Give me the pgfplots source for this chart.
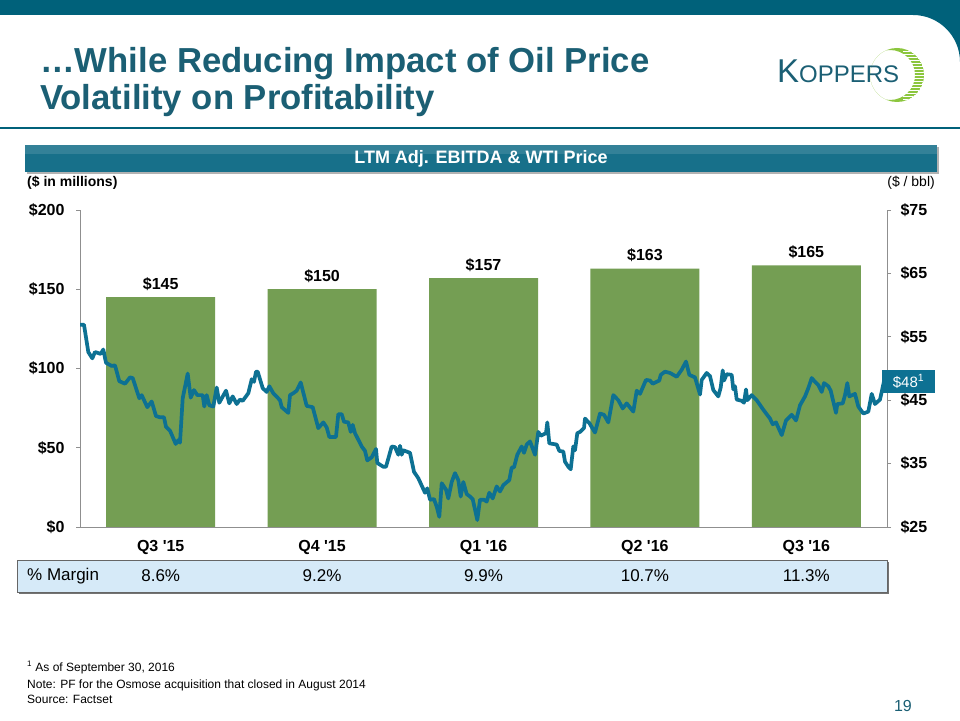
\documentclass[border=0pt]{standalone}
\usepackage{pgfplots}
\pgfplotsset{compat=1.18}
\usepackage{fontspec}
\setmainfont{Liberation Sans}
\usepackage{graphicx}
\definecolor{topteal}{HTML}{00617A}
\definecolor{titleteal}{HTML}{1B5F74}
\definecolor{bannerteal}{HTML}{17708A}
\definecolor{linecol}{HTML}{0D7193}
\definecolor{barcol}{HTML}{749E53}
\definecolor{tableblue}{HTML}{D6EAF8}
\definecolor{axgray}{HTML}{8F8F8F}
\definecolor{logogreen}{HTML}{8CC63E}
\newcommand{\fs}[2]{\fontsize{#1}{#2}\selectfont}

\pgfplotstableread{
x y
80 56.9
84 56.9
88.3 52.6
92.3 51.6
95 52.6
100.7 52.3
103.3 53.0
106 50.9
111.7 50.4
115 50.5
119.3 48.0
125 47.6
130 48.6
132.7 48.5
139.3 45.3
141.7 45.8
147.3 43.9
151.7 44.8
156 42.5
160 42.3
164 42.3
166 40.8
170 40.2
175.7 38.1
178.3 38.7
180 38.3
182.7 45.3
187.7 49.2
190.7 45.4
194 46.6
197.3 45.8
202.7 45.8
204.3 44.0
206.7 45.8
209.3 44.2
213.3 44.0
216.7 47.0
219.3 44.6
226 46.5
229.3 44.5
232.7 45.6
236.7 44.4
240 45.1
242.7 44.9
248.3 46.1
251.7 48.3
254 47.9
256 49.5
257.7 49.5
262.7 46.9
266.7 46.3
269.3 47.2
273.3 46.1
280 45.0
281.7 43.9
288.3 43.0
290 45.8
293.3 46.1
296.7 46.5
300.7 47.8
306.7 44.1
312.7 43.9
318.3 40.6
323.3 41.5
326.7 40.7
329.3 39.2
336 39.2
338.3 42.8
341.7 42.8
344 41.6
348.3 41.5
350.7 40.0
352.7 41.1
355 39.8
361.7 37.7
365 37.0
367.3 35.5
371.7 36.0
376 37.3
377.3 35.1
383.3 34.5
386 34.5
391.7 37.7
395 37.6
398.3 36.4
400 37.8
401.7 36.4
403.3 37.1
410 36.7
414 33.7
418.3 32.7
425 30.4
427.3 31.1
430 29.3
434 29.4
436.7 28.2
439.3 26.6
441.7 31.9
446 30.9
448.3 29.5
451.7 32.1
455 33.5
458.3 32.4
460.7 29.8
463.3 32.1
466.7 30.2
470 29.8
472.7 29.4
477.3 26.1
480 29.3
484 29.3
486.7 29.0
489.3 30.4
492.7 29.5
496.7 31.4
500 30.6
503.3 31.6
509.3 32.4
511.7 34.4
514 34.4
517.3 36.4
521.7 37.7
524 36.7
526.7 38.0
530 38.5
535 36.4
538.3 40.0
540.7 39.4
546 39.8
547.3 41.5
549.3 38.2
556.7 38.0
559.3 37.0
563.3 36.9
565 35.3
568.3 34.5
570.7 34.1
573.3 37.7
575 37.1
577.3 39.8
580 40.0
584 40.6
585 42.1
589.3 41.4
595 39.9
600 42.9
604 42.7
608.3 41.5
613.3 45.8
618.3 45.0
622.7 43.7
626.7 44.5
633.3 43.2
636.7 46.5
640 46.0
646 48.2
650 48.1
652.7 47.6
659.3 48.1
660.7 49.0
665 49.5
670 49.3
676.7 48.7
681.7 49.8
686 51.1
689.3 49.0
695 48.6
700 45.9
701.7 48.2
706.7 49.3
710 48.8
713.3 46.6
718.3 45.6
720.7 47.0
722.7 49.7
724 48.1
726.7 49.1
731.7 49.0
733.3 46.7
735 47.2
736.7 45.1
741.7 44.9
744 44.6
746 46.7
747.3 45.0
751.7 45.8
756.7 45.0
763.3 43.5
770 42.1
772.7 41.2
776 41.5
781.7 39.5
786 41.8
791.7 42.7
796 41.8
800 44.2
805 45.6
808.3 46.9
811.7 48.5
815 47.9
818.3 47.4
821.7 46.3
824 47.7
828.3 47.2
830.7 46.5
836 43.0
837.3 44.4
842.7 44.5
845 45.8
847.3 47.7
849.3 45.6
855 46.0
858.3 44.0
863.3 42.9
868.3 43.2
871.7 46.0
875 44.4
880 45.1
884 48.0
}\wtidata

\pgfplotstableread{
x y
0 145
1 150
2 157
3 163
4 165
}\ebitda

\begin{document}
\begin{tikzpicture}
\useasboundingbox (0pt,0pt) rectangle (960pt,720pt);
\fill[white] (0pt,0pt) rectangle (960pt,720pt);
\begin{scope}[x=1pt,y=1pt]
  % top band
  \fill[topteal] (0,705) rectangle (960,720);
  \fill[topteal] (960,705) -- (960,658) arc[start angle=0,end angle=90,radius=47] -- cycle;
  % title
  \node[anchor=base west, inner sep=0, text=titleteal] at (40,647) {\fs{34.7}{40}\bfseries …While Reducing Impact of Oil Price};
  \node[anchor=base west, inner sep=0, text=titleteal] at (40,610) {\fs{34.7}{40}\bfseries Volatility on Profitability};
  % logo crescent
  \begin{scope}
    \clip (897,645) circle[radius=27];
    \fill[logogreen, even odd rule] (897,645) circle[radius=27] (890,645) circle[radius=25];
    \foreach \yy in {621,624,...,669} {\draw[white, line width=0.9] (903,\yy) -- (926,\yy);}
  \end{scope}
  \node[anchor=base west, inner sep=0, text=titleteal] at (777,637) {\fs{33}{33}K\fs{24}{24}OPPERS};
  % separator line
  \draw[topteal, line width=1.3] (0,592) -- (960,592);
  % banner
  \fill[black!30] (27,546) rectangle (939,573);
  \fill[bannerteal] (25,548) rectangle (937,575);
  \fill[white, opacity=0.12] (25,566) rectangle (937,575);
  \node[text=white] at (481,561.5) {\fs{18}{20}\bfseries LTM Adj. EBITDA \& WTI Price};
  % unit labels
  \node[anchor=west, inner sep=0] at (27,537) {\fs{14}{16}\bfseries (\$ in millions)};
  \node[anchor=east, inner sep=0] at (935,537) {\fs{14}{16}(\$ / bbl)};
  % margin table
  \fill[black!55] (19,126) rectangle (889,158);
  \fill[tableblue] (17,128) rectangle (887,160);
  \draw[black!60, line width=0.8] (17,128) rectangle (887,160);
  \node[anchor=west, inner sep=0] at (27,144) {\fs{17}{20}\% Margin};
  \node at (160.7,144) {\fs{17}{20}8.6\%};
  \node at (322.1,144) {\fs{17}{20}9.2\%};
  \node at (483.5,144) {\fs{17}{20}9.9\%};
  \node at (644.9,144) {\fs{17}{20}10.7\%};
  \node at (806.3,144) {\fs{17}{20}11.3\%};
  % footnotes
  \node[anchor=base west, inner sep=0] at (27,49) {\fs{12}{14}\textsuperscript{1} As of September 30, 2016};
  \node[anchor=base west, inner sep=0] at (27,32) {\fs{12}{14}Note: PF for the Osmose acquisition that closed in August 2014};
  \node[anchor=base west, inner sep=0] at (27,17) {\fs{12}{14}Source: Factset};
  \node[anchor=base east, inner sep=0, text=titleteal] at (912,9) {\fs{16}{18}19};
\end{scope}

\begin{axis}[
  at={(80pt,193pt)}, anchor=south west,
  width=807pt, height=317pt, scale only axis,
  xmin=-0.5, xmax=4.5, ymin=0, ymax=200,
  axis y line*=left, axis x line*=bottom,
  axis line style={-, draw=axgray, line width=0.9pt},
  ytick={0,50,...,200},
  yticklabel={\$\pgfmathprintnumber{\tick}},
  /pgf/number format/assume math mode=true,
  ticklabel style={font=\fs{16}{18}\bfseries},
  ytick style={draw=axgray, line width=0.9pt},
  tick align=outside, major tick length=4pt,
  xtick={0,...,4},
  xticklabels={Q3 \textquotesingle 15, Q4 \textquotesingle 15, Q1 \textquotesingle 16, Q2 \textquotesingle 16, Q3 \textquotesingle 16},
  xtick style={draw=none},
  extra x ticks={-0.5,0.5,1.5,2.5,3.5,4.5},
  extra x tick labels={},
  extra x tick style={tick style={draw=axgray, line width=0.9pt}, major tick length=5pt},
  xticklabel style={yshift=-6pt},
  yticklabel style={xshift=-8pt},
  ybar, bar width=109pt,
  nodes near coords={\$\pgfmathprintnumber{\pgfplotspointmeta}},
  every node near coord/.append style={font=\fs{16}{18}\bfseries, yshift=3pt},
  clip=false,
]
\addplot[fill=barcol, draw=none] table {\ebitda};
\end{axis}

\begin{axis}[
  at={(80pt,193pt)}, anchor=south west,
  width=807pt, height=317pt, scale only axis,
  xmin=80, xmax=887, ymin=25, ymax=75,
  axis y line*=right, axis x line=none,
  axis line style={-, draw=axgray, line width=0.9pt},
  ytick={25,35,...,75},
  yticklabel={\$\pgfmathprintnumber{\tick}},
  /pgf/number format/assume math mode=true,
  ticklabel style={font=\fs{16}{18}\bfseries},
  ytick style={draw=axgray, line width=0.9pt},
  tick align=outside, major tick length=4pt,
  yticklabel style={xshift=6pt},
]
\addplot[linecol, line width=3.7pt, line join=round, line cap=round] table {\wtidata};
\end{axis}

\begin{scope}[x=1pt,y=1pt]
  \fill[linecol] (882,327) rectangle (935,350);
  \node[text=white] at (908.5,338.5) {\fs{15}{17}\$48\textsuperscript{1}};
\end{scope}
\end{tikzpicture}
\end{document}
